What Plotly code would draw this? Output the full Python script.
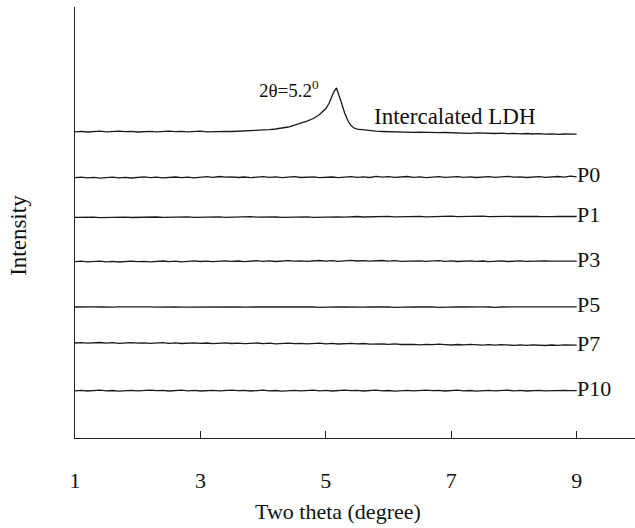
import plotly.graph_objects as go

# ---------------- data ----------------
two_theta = [1.0, 1.1, 1.2, 1.3, 1.4, 1.5, 1.6, 1.7, 1.8, 1.9,
             2.0, 2.1, 2.2, 2.3, 2.4, 2.5, 2.6, 2.7, 2.8, 2.9,
             3.0, 3.1, 3.2, 3.3, 3.4, 3.5, 3.6, 3.7, 3.8, 3.9,
             4.0, 4.1, 4.2, 4.3, 4.4, 4.5, 4.6, 4.7, 4.8, 4.9,
             5.0, 5.1, 5.2, 5.3, 5.4, 5.5, 5.6, 5.7, 5.8, 5.9,
             6.0, 6.1, 6.2, 6.3, 6.4, 6.5, 6.6, 6.7, 6.8, 6.9,
             7.0, 7.1, 7.2, 7.3, 7.4, 7.5, 7.6, 7.7, 7.8, 7.9,
             8.0, 8.1, 8.2, 8.3, 8.4, 8.5, 8.6, 8.7, 8.8, 8.9,
             9.0]

ldh_theta = [1.0, 1.1, 1.2, 1.3, 1.4, 1.5, 1.6, 1.7, 1.8, 1.9,
             2.0, 2.1, 2.2, 2.3, 2.4, 2.5, 2.6, 2.7, 2.8, 2.9,
             3.0, 3.1, 3.2, 3.3, 3.4, 3.5, 3.6, 3.7, 3.8,
             3.9, 4.0, 4.1, 4.2, 4.3, 4.4, 4.5, 4.6, 4.7, 4.8, 4.9,
             5.0, 5.05, 5.1, 5.13, 5.17, 5.2, 5.25, 5.3, 5.35, 5.4, 5.45, 5.5,
             5.6, 5.7, 5.8, 5.9, 6.0, 6.1, 6.2, 6.3, 6.4, 6.5,
             6.6, 6.7, 6.8, 6.9, 7.0, 7.1, 7.2, 7.3, 7.4, 7.5,
             7.6, 7.7, 7.8, 7.9, 8.0, 8.1, 8.2, 8.3, 8.4, 8.5,
             8.6, 8.7, 8.8, 8.9, 9.0]

ldh_intensity = [306.2, 306.6, 306.0, 306.4, 306.8, 306.1, 306.5, 306.9, 306.3, 306.6,
                 306.0, 306.4, 306.7, 306.2, 306.5, 306.9, 306.3, 306.6, 306.1, 306.5,
                 306.8, 306.2, 306.6, 306.4, 306.7, 306.5, 306.8, 306.6, 307.0,
                 307.3, 307.8, 308.3, 309.0, 309.9, 311.0, 312.8, 314.5, 316.8, 319.5, 323.5,
                 329.5, 334.5, 342.0, 346.5, 350.0, 345.0, 335.0, 325.0, 317.5, 312.5, 310.0, 308.8,
                 308.0, 307.3, 306.8, 306.5, 306.2, 306.0, 305.8, 306.0, 305.6, 305.8,
                 305.4, 305.7, 305.3, 305.5, 305.1, 305.4, 305.0, 304.6, 305.1, 304.7,
                 305.0, 304.5, 304.8, 304.3, 304.7, 304.2, 304.5, 304.0, 304.4, 303.9,
                 304.2, 303.7, 304.0, 303.6, 303.8]

p0 = [260.3, 260.8, 260.1, 260.6, 259.9, 260.4, 260.9, 260.2, 260.7, 260.0,
      260.5, 261.1, 260.3, 260.8, 260.2, 260.6, 261.0, 260.4, 260.9, 260.1,
      260.6, 261.3, 260.7, 261.5, 260.8, 261.2, 260.5, 261.0, 260.3, 260.9,
      261.4, 260.6, 261.1, 260.4, 260.8, 261.3, 260.5, 260.9, 261.2, 260.4,
      260.7, 261.0, 260.3, 260.8, 261.4, 260.6, 261.1, 260.5, 261.7, 260.9,
      261.3, 260.6, 261.0, 261.5, 260.7, 261.2, 260.4, 260.9, 261.3, 260.6,
      261.0, 261.4, 260.7, 261.1, 260.5, 260.9, 261.3, 260.6, 261.0, 261.6,
      260.8, 261.2, 260.5, 261.0, 261.4, 260.7, 261.1, 261.5, 260.9, 261.8,
      261.2]

p1 = [220.6, 220.9, 220.5, 220.8, 220.4, 220.7, 221.0, 220.6, 220.9, 220.5,
      220.8, 220.4, 220.7, 221.0, 220.6, 220.9, 220.5, 220.8, 221.1, 220.7,
      220.9, 220.5, 220.8, 221.2, 220.7, 221.0, 220.6, 220.9, 221.3, 220.8,
      221.1, 220.7, 221.0, 220.6, 220.9, 221.2, 220.8, 221.1, 220.7, 221.0,
      221.3, 220.9, 221.2, 220.8, 221.1, 221.5, 221.0, 221.3, 220.9, 221.2,
      221.6, 221.1, 221.4, 221.0, 221.3, 221.7, 221.2, 221.5, 221.1, 221.4,
      221.8, 221.3, 221.6, 221.2, 221.5, 221.9, 221.4, 221.7, 221.3, 221.6,
      221.5, 221.8, 221.4, 221.7, 221.5, 221.8, 221.4, 221.6, 221.5, 221.7,
      221.5]

p3 = [176.3, 176.8, 176.1, 176.6, 176.9, 176.2, 176.7, 176.0, 176.5, 176.9,
      176.3, 176.7, 176.1, 176.6, 177.0, 176.4, 176.8, 176.2, 176.6, 177.1,
      176.5, 176.9, 176.3, 176.7, 177.2, 176.6, 177.0, 176.4, 176.8, 177.3,
      176.7, 177.1, 176.5, 176.9, 177.4, 176.8, 177.2, 176.6, 177.0, 177.5,
      176.9, 177.3, 176.7, 177.1, 177.6, 177.0, 177.4, 176.8, 177.2, 177.5,
      176.9, 177.3, 176.7, 177.1, 176.8, 177.2, 176.6, 177.0, 177.3, 176.7,
      177.1, 176.5, 176.9, 177.2, 176.6, 177.0, 176.4, 176.8, 177.1, 176.5,
      176.9, 177.2, 176.6, 177.0, 176.7, 177.1, 176.8, 177.0, 176.7, 177.0,
      176.9]

p5 = [131.0, 131.2, 130.9, 131.1, 131.0, 131.3, 130.9, 131.1, 131.2, 130.9,
      131.1, 131.0, 131.2, 130.8, 131.1, 131.0, 131.2, 130.9, 131.0, 131.1,
      130.7, 131.0, 131.2, 130.9, 131.1, 131.0, 131.2, 130.9, 131.1, 131.0,
      130.8, 131.1, 131.2, 131.0, 131.1, 130.9, 131.2, 131.0, 131.1, 130.7,
      131.0, 131.2, 131.1, 131.0, 131.2, 131.1, 130.9, 131.0, 131.2, 131.0,
      131.1, 130.6, 131.0, 131.2, 131.1, 131.0, 131.2, 131.1, 130.7, 131.0,
      131.2, 131.1, 131.0, 131.2, 130.9, 131.1, 131.0, 130.6, 131.0, 131.2,
      131.1, 131.0, 131.2, 131.1, 131.0, 131.2, 131.1, 131.2, 131.1, 131.2,
      131.1]

p7 = [95.0, 95.4, 94.8, 95.2, 95.5, 94.9, 95.3, 94.7, 95.1, 95.4,
      94.8, 95.2, 94.6, 95.0, 95.3, 94.7, 95.1, 94.5, 94.9, 95.2,
      94.6, 95.0, 94.4, 94.8, 95.1, 94.5, 94.9, 94.3, 94.7, 95.0,
      94.4, 94.8, 94.2, 94.6, 94.9, 94.3, 94.7, 94.1, 94.5, 94.8,
      94.2, 94.6, 94.0, 94.4, 94.7, 94.1, 94.5, 93.9, 94.3, 94.0,
      93.7, 94.1, 93.5, 93.9, 93.6, 93.2, 93.7, 93.3, 93.8, 93.4,
      93.0, 93.5, 93.1, 93.6, 93.2, 92.8, 93.3, 92.9, 93.4, 93.0,
      92.6, 93.1, 92.7, 93.2, 92.8, 92.5, 93.0, 92.6, 93.1, 92.8,
      92.9]

p10 = [47.1, 47.6, 47.0, 47.4, 47.8, 47.2, 47.5, 46.9, 47.3, 47.7,
       47.1, 47.5, 47.9, 47.3, 47.6, 47.0, 47.4, 47.8, 47.2, 47.6,
       47.0, 47.3, 47.7, 47.1, 47.5, 47.9, 47.3, 47.6, 47.0, 47.4,
       47.8, 47.2, 47.5, 46.9, 47.3, 47.7, 47.1, 47.4, 47.8, 47.2,
       47.6, 47.0, 47.4, 47.9, 47.3, 47.6, 47.0, 47.5, 47.8, 47.2,
       47.5, 46.9, 47.3, 47.7, 47.1, 47.5, 47.9, 47.3, 47.6, 47.0,
       47.4, 47.8, 47.2, 47.5, 46.9, 47.3, 47.7, 47.1, 47.4, 47.8,
       47.2, 47.6, 47.0, 47.4, 47.7, 47.1, 47.5, 47.2, 47.6, 47.3,
       47.4]

sample_names = ["P0", "P1", "P3", "P5", "P7", "P10"]
sample_series = [p0, p1, p3, p5, p7, p10]
tick_vals = [1, 3, 5, 7, 9]
tick_text = ["1", "3", "5", "7", "9"]

# ---------------- figure ----------------
FONT = "Liberation Serif"
LINE = dict(color="#1a1a1a", width=1.3)
TXT = "#111111"

fig = go.Figure()
fig.add_trace(go.Scatter(x=ldh_theta, y=ldh_intensity, mode="lines", line=LINE,
                         name="Intercalated LDH", hoverinfo="skip"))
for name, ys in zip(sample_names, sample_series):
    fig.add_trace(go.Scatter(x=two_theta, y=ys, mode="lines", line=LINE,
                             name=name, hoverinfo="skip"))

annotations = []
for name, ys in zip(sample_names, sample_series):
    annotations.append(dict(x=two_theta[-1], y=ys[-1], xref="x", yref="y",
                            text=name, showarrow=False, xanchor="left",
                            yanchor="middle", xshift=-2, yshift=2,
                            font=dict(family=FONT, size=22, color=TXT)))
annotations.append(dict(x=7.06, y=322, xref="x", yref="y", text="Intercalated LDH",
                        showarrow=False, xanchor="center", yanchor="middle",
                        font=dict(family=FONT, size=23, color=TXT)))
annotations.append(dict(x=4.41, y=349, xref="x", yref="y", text="2θ=5.2<sup>0</sup>",
                        showarrow=False, xanchor="center", yanchor="middle",
                        font=dict(family=FONT, size=19, color=TXT)))
annotations.append(dict(x=0.47, y=-0.17, xref="paper", yref="paper",
                        text="Two theta (degree)", showarrow=False,
                        xanchor="center", yanchor="middle",
                        font=dict(family=FONT, size=22, color=TXT)))
annotations.append(dict(x=-0.1, y=0.469, xref="paper", yref="paper",
                        text="Intensity", showarrow=False, textangle=-90,
                        xanchor="center", yanchor="middle",
                        font=dict(family=FONT, size=23, color=TXT)))

fig.update_layout(
    width=635, height=528,
    margin=dict(l=75, r=0, t=7, b=90),
    paper_bgcolor="white", plot_bgcolor="white",
    showlegend=False,
    annotations=annotations,
    font=dict(family=FONT, color=TXT),
)
fig.update_xaxes(range=[1, 9.93], tickmode="array", tickvals=tick_vals, ticktext=tick_text,
                 ticks="inside", ticklen=7, tickcolor="#222", tickwidth=1,
                 showline=True, linecolor="#222", linewidth=1.2,
                 showgrid=False, zeroline=False, ticklabelstandoff=22,
                 tickfont=dict(family=FONT, size=22, color=TXT))
fig.update_yaxes(range=[0, 431], showticklabels=False, ticks="",
                 showline=True, linecolor="#222", linewidth=1.2,
                 showgrid=False, zeroline=False)

fig.write_html("out.html")
